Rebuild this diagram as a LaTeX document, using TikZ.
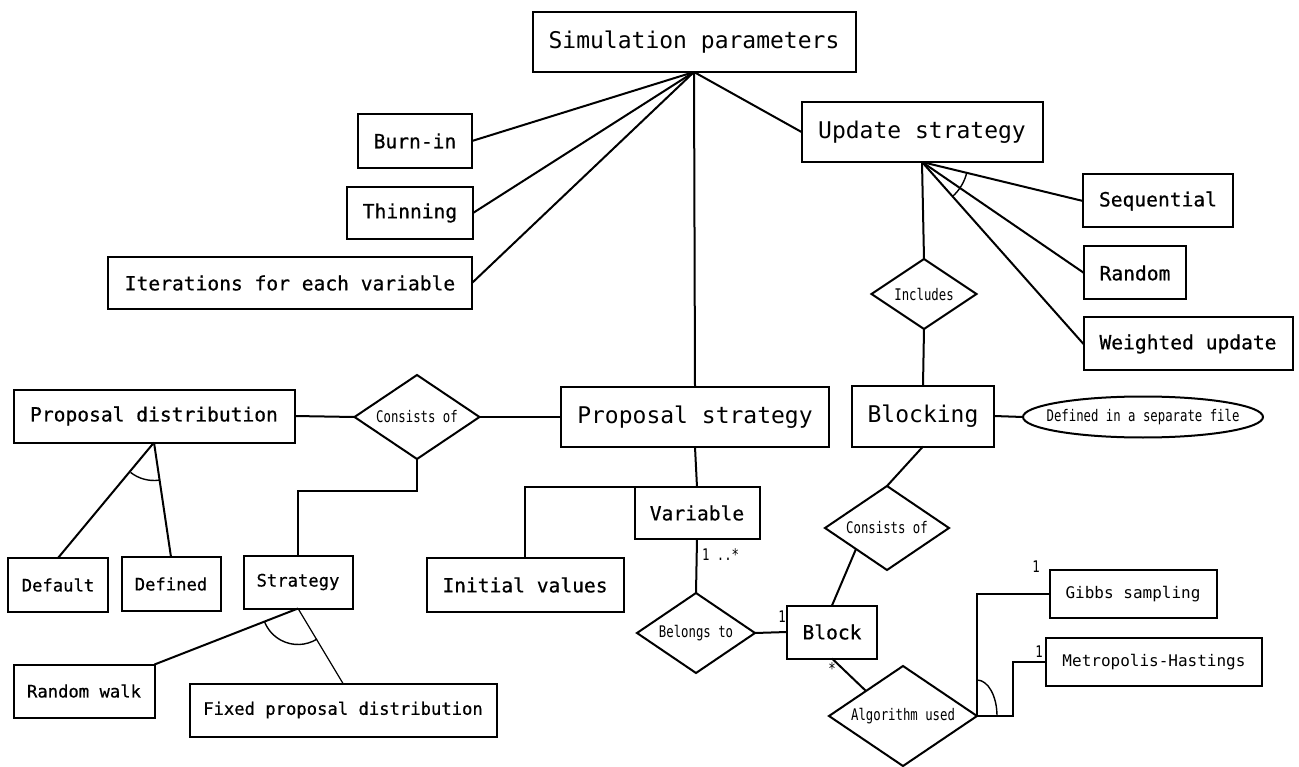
\documentclass[tikz,border=0pt]{standalone}
\usepackage{fontspec}
\usetikzlibrary{shapes.geometric}
\newfontfamily\dejamono{DejaVu Sans Mono}
\newfontfamily\dejaheavy[FakeBold=0.6]{DejaVu Sans Mono}
\newfontfamily\dejacond[FakeStretch=0.77]{DejaVu Sans Mono}
\newcommand{\bigtxt}{\dejamono\fontsize{23}{27}\selectfont}
\newcommand{\midtxt}{\dejaheavy\fontsize{19.6}{23}\selectfont}
\newcommand{\lowtxt}{\dejaheavy\fontsize{17.2}{21}\selectfont}
\newcommand{\smalltxt}{\dejamono\fontsize{16}{19}\selectfont}
\newcommand{\condtxt}{\dejacond\fontsize{16}{19}\selectfont}
\begin{document}
\begin{tikzpicture}[x={(1pt,0pt)},y={(0pt,-1pt)},line width=2pt,
  every node/.style={inner sep=0pt, outer sep=0pt},
  box/.style={draw, rectangle, minimum height=53pt, font=\midtxt},
  rel/.style={draw, diamond, aspect=1.48, font=\condtxt},
  lbl/.style={font=\condtxt}]
\useasboundingbox (0,0) rectangle (1299,767);
\node[box, font=\bigtxt, minimum width=323pt, minimum height=60pt] (simparams) at (694,42) {Simulation parameters};
\node[box, minimum width=114pt, minimum height=54pt] (burnin) at (415,141) {Burn-in};
\node[box, minimum width=126pt, minimum height=52pt] (thinning) at (410,213) {Thinning};
\node[box, minimum width=364pt, minimum height=52pt] (iterations) at (290,283) {Iterations for each variable};
\node[box, font=\bigtxt, minimum width=241pt, minimum height=60pt] (updatestrat) at (922,132) {Update strategy};
\node[box, minimum width=150pt] (sequential) at (1158,201) {Sequential};
\node[box, minimum width=102pt] (random) at (1135,273) {Random};
\node[box, minimum width=209pt] (weighted) at (1188,344) {Weighted update};
\node[rel, minimum width=105pt, minimum height=70pt, aspect=1.5] (includes) at (924,294) {Includes};
\node[box, font=\bigtxt, minimum width=142pt, minimum height=61pt] (blocking) at (923,416) {Blocking};
\node[draw, ellipse, font=\condtxt, inner xsep=-20pt, minimum width=240pt, minimum height=41pt] (sepfile) at (1143,417) {Defined in a separate file};
\node[box, font=\bigtxt, minimum width=268pt, minimum height=60pt] (propstrat) at (695,417) {Proposal strategy};
\node[rel, minimum width=125pt, minimum height=84pt] (consistsa) at (417,417) {Consists of};
\node[box, minimum width=281pt] (propdist) at (154,416) {Proposal distribution};
\node[box, font=\lowtxt, minimum width=100pt, minimum height=54pt] (default) at (58,585) {Default};
\node[box, font=\lowtxt, minimum width=99pt, minimum height=54pt] (defined) at (171,584) {Defined};
\node[box, font=\lowtxt, minimum width=109pt] (strategy) at (298,582) {Strategy};
\node[box, font=\lowtxt, minimum width=141pt] (randomwalk) at (84,691) {Random walk};
\node[box, font=\lowtxt, minimum width=307pt] (fixed) at (343,710) {Fixed proposal distribution};
\node[box, minimum width=197pt, minimum height=54pt] (initial) at (525,585) {Initial values};
\node[box, minimum width=125pt, minimum height=52pt] (variable) at (697,513) {Variable};
\node[rel, minimum width=118pt, minimum height=80pt] (belongs) at (696,633) {Belongs to};
\node[box, minimum width=90pt] (block) at (832,632) {Block};
\node[rel, minimum width=124pt, minimum height=84pt] (consistsb) at (887,528) {Consists of};
\node[rel, minimum width=148pt, minimum height=100pt] (algo) at (903,716) {Algorithm used};
\node[box, font=\smalltxt, minimum width=167pt, minimum height=48pt] (gibbs) at (1133,594) {Gibbs sampling};
\node[box, font=\smalltxt, minimum width=216pt, minimum height=48pt] (metro) at (1154,662) {Metropolis-Hastings};
\node[lbl, anchor=west] (manyvar) at (702,555) {1 ..*};
\node[lbl] (oneblock) at (782,617) {1};
\node[lbl] (manyblock) at (832,669) {*};
\node[lbl] (onegibbs) at (1036,567) {1};
\node[lbl] (onemetro) at (1039,652) {1};
\draw (simparams.south) -- (burnin.east);
\draw (simparams.south) -- (thinning.east);
\draw (simparams.south) -- (iterations.east);
\draw (simparams.south) -- (propstrat.north);
\draw (simparams.south) -- (updatestrat.west);
\draw (updatestrat.south) -- (sequential.west);
\draw (updatestrat.south) -- (random.west);
\draw (updatestrat.south) -- (weighted.west);
\draw[line width=1.4pt] (updatestrat.south) ++(13:46) arc[start angle=13, end angle=48, radius=46];
\draw (updatestrat.south) -- (includes.north);
\draw (includes.south) -- (blocking.north);
\draw (blocking.east) -- (sepfile.west);
\draw (blocking.south) -- (consistsb.north);
\draw (consistsb.south west) -- (block.north);
\draw (block.south) -- (algo.north west);
\draw (algo.east) |- (gibbs.west);
\draw (algo.east) -- ++(36,0) |- (metro.west);
\draw[line width=1.4pt] (algo.east) ++(0,-36) arc[start angle=-90, end angle=0, x radius=20, y radius=36];
\draw (propdist.east) -- (consistsa.west);
\draw (consistsa.east) -- (propstrat.west);
\draw (consistsa.south) -- ++(0,32) -| (strategy.north);
\draw (propdist.south) -- (default.north);
\draw (propdist.south) -- (defined.north);
\draw[line width=1.4pt] (propdist.south) ++(82:38) arc[start angle=82, end angle=128, radius=38];
\draw (strategy.south) -- (randomwalk.north east);
\draw[line width=1.2pt] (strategy.south) -- (fixed.north);
\draw[line width=1.4pt] (strategy.south) ++(58:36) arc[start angle=58, end angle=159, radius=36];
\draw (propstrat.south) -- (variable.north);
\draw (initial.north) |- (variable.north west);
\draw (variable.south) -- (belongs.north);
\draw (belongs.east) -- (block.west);
\end{tikzpicture}
\end{document}
